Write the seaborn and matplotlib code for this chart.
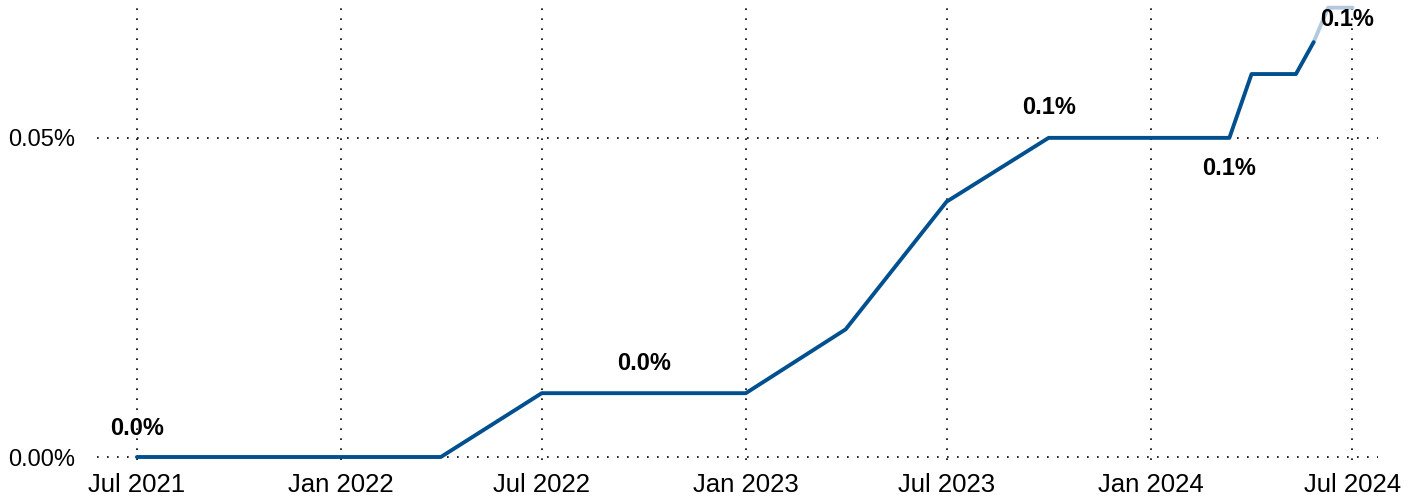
import pandas as pd
import matplotlib
matplotlib.use("Agg")
import matplotlib.pyplot as plt
import matplotlib.dates as mdates
import seaborn as sns

# main series (dark) and the lighter tail at the end
main_dates = ["2021-07-01", "2022-04-01", "2022-07-01", "2023-01-01", "2023-04-01",
              "2023-07-01", "2023-10-01", "2024-03-12", "2024-04-01", "2024-05-11",
              "2024-05-27"]
main_values = [0.0, 0.0, 0.01, 0.01, 0.02, 0.04, 0.05, 0.05, 0.06, 0.06, 0.065]

tail_dates = ["2024-05-27", "2024-06-09", "2024-07-01"]
tail_values = [0.065, 0.0704, 0.0704]

# value labels: (date, value, offset in pixels)
label_dates = ["2021-07-01", "2022-10-01", "2023-10-01", "2024-03-12", "2024-06-26"]
label_values = [0.0, 0.01, 0.05, 0.05, 0.0704]
label_offsets = [(0, 29), (0, 30), (0, 30), (0, -31), (0, -12)]

y_ticks = [0.0, 0.05]

main_df = pd.DataFrame({"date": pd.to_datetime(main_dates), "value": main_values})
tail_df = pd.DataFrame({"date": pd.to_datetime(tail_dates), "value": tail_values})

sns.set_theme(style="white")
plt.rcParams["font.family"] = ["Liberation Sans", "DejaVu Sans"]

fig, ax = plt.subplots(figsize=(14.18, 5), dpi=100)
fig.subplots_adjust(left=97 / 1418, right=1378 / 1418, bottom=40 / 500, top=1.0)

sns.lineplot(data=tail_df, x="date", y="value", ax=ax, color="#b3cade", linewidth=2.8)
sns.lineplot(data=main_df, x="date", y="value", ax=ax, color="#00508f", linewidth=2.8)

for d, v, off in zip(label_dates, label_values, label_offsets):
    ax.annotate(f"{v:.1f}%", xy=(pd.Timestamp(d), v), xytext=off, textcoords="offset pixels",
                ha="center", va="center", fontsize=17, fontweight="bold", color="black")

ax.set_xlim(pd.Timestamp("2021-05-26"), pd.Timestamp("2024-07-24"))
ax.set_ylim(-0.00047, 0.0716)
ax.set_yticks(y_ticks)
ax.set_yticklabels([f"{t:.2f}%" for t in y_ticks])
ax.xaxis.set_major_locator(mdates.MonthLocator(bymonth=[1, 7]))
ax.xaxis.set_major_formatter(mdates.DateFormatter("%b %Y"))

ax.grid(True, linestyle=(0, (1, 5)), color="black", linewidth=1.2)
ax.set_axisbelow(True)
for s in ax.spines.values():
    s.set_visible(False)
ax.tick_params(axis="y", length=0, pad=16, labelsize=17, labelcolor="black")
ax.tick_params(axis="x", length=0, pad=9, labelsize=18.5, labelcolor="black")
ax.set_xlabel("")
ax.set_ylabel("")

fig.savefig("out.png", dpi=100)
